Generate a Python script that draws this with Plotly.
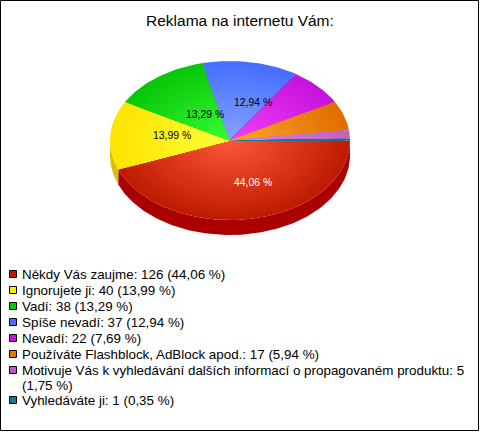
import numpy as np
import plotly.graph_objects as go

categories = ["Někdy Vás zaujme", "Ignorujete ji", "Vadí", "Spíše nevadí", "Nevadí",
              "Používáte Flashblock, AdBlock apod.",
              "Motivuje Vás k vyhledávání dalších informací o propagovaném produktu",
              "Vyhledáváte ji"]
values = [126, 40, 38, 37, 22, 17, 5, 1]
inner_colors = [(255, 88, 60), (255, 255, 60), (55, 255, 55), (135, 165, 255),
                (245, 65, 255), (255, 170, 45), (215, 135, 225), (50, 140, 160)]
outer_colors = [(190, 28, 0), (255, 228, 0), (8, 198, 8), (70, 110, 255),
                (198, 18, 218), (225, 110, 0), (190, 100, 190), (20, 110, 130)]
wall_colors = [(170, 0, 0), (220, 190, 0), (0, 150, 0), (40, 70, 200),
               (150, 0, 170), (180, 90, 0), (150, 70, 150), (15, 85, 100)]
legend_colors = [(190, 28, 0), (255, 235, 0), (8, 198, 8), (70, 110, 255),
                 (198, 18, 218), (230, 120, 0), (190, 90, 190), (25, 120, 140)]

CX, CY, RX, RY, DEPTH = 230, 140.5, 120, 79.5, 15
RINGS = 24
total = sum(values)


def pct(v):
    return f"{v / total * 100:.2f}".replace(".", ",") + " %"


def rgb(c):
    return f"rgb({c[0]},{c[1]},{c[2]})"


def arc(a0, a1):
    t = np.linspace(a0, a1, max(3, int(abs(a1 - a0) * 60)))
    return np.cos(t), np.sin(t)


fig = go.Figure()


def poly(xs, ys, color):
    fig.add_trace(go.Scatter(x=xs, y=ys, mode="lines", fill="toself", fillcolor=color,
                             line=dict(width=0, color=color), hoverinfo="skip",
                             showlegend=False))


fractions = np.cumsum([0] + values) / total * 2 * np.pi

# side wall of the disc (only the front half shows)
for i in range(len(values)):
    a0, a1 = fractions[i], min(fractions[i + 1], np.pi)
    if a0 >= np.pi:
        continue
    cx, sy = arc(a0, a1)
    xs = CX + RX * cx
    ys = CY + RY * sy
    poly(np.r_[xs, xs[::-1], xs[0]], np.r_[ys, ys[::-1] + DEPTH, ys[0]], rgb(wall_colors[i]))

# top surface, radial shading via nested wedges
for i in range(len(values)):
    cx, sy = arc(fractions[i], fractions[i + 1])
    for k in range(RINGS):
        f = 1 - k / RINGS
        col = tuple(int(round(inner_colors[i][j] + (outer_colors[i][j] - inner_colors[i][j]) * f))
                    for j in range(3))
        poly(np.r_[CX, CX + RX * f * cx, CX], np.r_[CY, CY + RY * f * sy, CY], rgb(col))

annotations = [dict(x=239.5, y=20, text="Reklama na internetu Vám:", showarrow=False,
                    font=dict(size=15.5, color="black"), xanchor="center", yanchor="middle")]

# slice labels (only the large slices carry one)
label_pos = {0: (253, 182, "white"), 1: (172, 135, "black"), 2: (205, 114, "black"), 3: (253, 102, "black")}
for i, (lx, ly, c) in label_pos.items():
    annotations.append(dict(x=lx, y=ly, text=pct(values[i]), showarrow=False,
                            font=dict(size=10.4, color=c), xanchor="center", yanchor="middle"))

# legend
legend_y = [274, 290, 306, 322, 338, 354, 370, 400]
LEGEND_FONT = dict(size=13.4, color="black")
for i, ly in enumerate(legend_y):
    text = f"{categories[i]}: {values[i]} ({pct(values[i])})"
    if i == 6:
        text = f"{categories[i]}: {values[i]}"
        annotations.append(dict(x=20, y=385, text=f"({pct(values[i])})", showarrow=False,
                                font=LEGEND_FONT, xanchor="left", yanchor="middle", align="left"))
    annotations.append(dict(x=20, y=ly, text=text, showarrow=False, font=LEGEND_FONT,
                            xanchor="left", yanchor="middle", align="left"))

fig.add_trace(go.Scatter(x=[13] * len(legend_y), y=legend_y, mode="markers", hoverinfo="skip",
                         showlegend=False,
                         marker=dict(symbol="square", size=7, color=[rgb(c) for c in legend_colors],
                                     line=dict(color="black", width=1))))

fig.update_layout(
    width=480, height=432, margin=dict(l=0, r=0, t=0, b=0),
    paper_bgcolor="white", plot_bgcolor="white",
    font=dict(family="Liberation Sans, Arial, sans-serif"),
    showlegend=False, annotations=annotations,
    xaxis=dict(range=[0, 480], visible=False, fixedrange=True),
    yaxis=dict(range=[432, 0], visible=False, fixedrange=True),
    shapes=[dict(type="rect", x0=0.5, y0=0.5, x1=478.5, y1=430.5, line=dict(color="black", width=1),
                 layer="above")],
)
fig.write_html("out.html", config={"displayModeBar": False},
               post_script="document.body.style.margin='0';document.body.style.overflow='hidden';window.scrollTo(0,0);")
